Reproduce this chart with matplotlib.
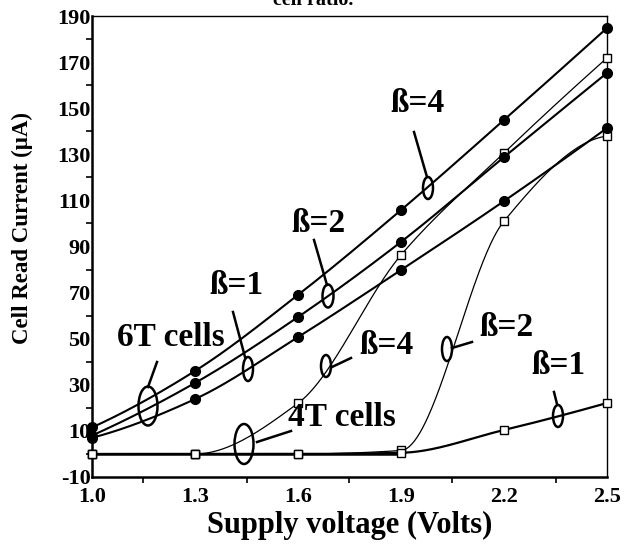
import numpy as np
import matplotlib
matplotlib.use("Agg")
import matplotlib.pyplot as plt
from matplotlib.patches import Ellipse
from matplotlib.lines import Line2D
from matplotlib.ticker import FixedLocator

# ---------------- data ----------------
voltage = [1.0, 1.3, 1.6, 1.9, 2.2, 2.5]
t6_beta4 = [11.5, 36.0, 69.0, 105.8, 144.9, 184.8]
t6_beta2 = [8.0, 30.8, 59.4, 92.0, 128.8, 165.3]
t6_beta1 = [7.0, 23.8, 50.7, 79.8, 109.7, 141.4]
t4_beta4 = [0.0, 0.0, 22.0, 86.3, 130.6, 171.8]
t4_beta2 = [0.0, 0.0, 0.0, 1.5, 101.0, 137.9]
t4_beta1 = [0.0, 0.0, 0.0, 0.5, 10.4, 22.1]

x_ticks = [1.0, 1.3, 1.6, 1.9, 2.2, 2.5]
x_tick_labels = ["1.0", "1.3", "1.6", "1.9", "2.2", "2.5"]
y_ticks = [-10, 10, 30, 50, 70, 90, 110, 130, 150, 170, 190]
y_tick_labels = ["-10", "10", "30", "50", "70", "90", "110", "130", "150", "170", "190"]

SERIF = ["Liberation Serif", "DejaVu Serif"]


def pchip(x, y, xn):
    x = np.asarray(x, float)
    y = np.asarray(y, float)
    h = np.diff(x)
    d = np.diff(y) / h
    n = len(x)
    m = np.zeros(n)
    for k in range(1, n - 1):
        if d[k - 1] * d[k] <= 0:
            m[k] = 0.0
        else:
            w1 = 2 * h[k] + h[k - 1]
            w2 = h[k] + 2 * h[k - 1]
            m[k] = (w1 + w2) / (w1 / d[k - 1] + w2 / d[k])
    m[0] = 0.0 if d[0] == 0 else ((2 * h[0] + h[1]) * d[0] - h[0] * d[1]) / (h[0] + h[1])
    if np.sign(m[0]) != np.sign(d[0]):
        m[0] = 0.0
    m[-1] = ((2 * h[-1] + h[-2]) * d[-1] - h[-1] * d[-2]) / (h[-1] + h[-2])
    if np.sign(m[-1]) != np.sign(d[-1]):
        m[-1] = 0.0
    xn = np.asarray(xn, float)
    idx = np.clip(np.searchsorted(x, xn) - 1, 0, n - 2)
    t = (xn - x[idx]) / h[idx]
    h00 = 2 * t**3 - 3 * t**2 + 1
    h10 = t**3 - 2 * t**2 + t
    h01 = -2 * t**3 + 3 * t**2
    h11 = t**3 - t**2
    return h00 * y[idx] + h10 * h[idx] * m[idx] + h01 * y[idx + 1] + h11 * h[idx] * m[idx + 1]


W, H = 633, 550
fig = plt.figure(figsize=(W / 100, H / 100), dpi=100)
ax = fig.add_axes([92 / W, 1 - 477 / H, (607 - 92) / W, (477 - 16) / H])
ax.set_xlim(1.0, 2.5)
ax.set_ylim(-10, 190)

xs = np.linspace(1.0, 2.5, 400)

# 4T cell curves (open squares)
for vals, lw in [(t4_beta4, 0.9), (t4_beta2, 0.9), (t4_beta1, 1.6)]:
    ax.plot(xs, pchip(voltage, vals, xs), color="black", lw=lw, zorder=2)
ax.plot(xs[xs <= 1.9], np.zeros((xs <= 1.9).sum()), color="black", lw=1.8, zorder=2)
for vals in [t4_beta4, t4_beta2, t4_beta1]:
    ax.plot(voltage, vals, ls="none", marker="s", ms=6, mfc="white",
            mec="black", mew=1.0, zorder=4, clip_on=False)

# 6T cell curves (filled circles)
for vals in [t6_beta4, t6_beta2, t6_beta1]:
    ax.plot(xs, pchip(voltage, vals, xs), color="black", lw=1.5, zorder=3)
    ax.plot(voltage, vals, ls="none", marker="o", ms=7, color="black",
            zorder=5, clip_on=False)

# axes styling
ax.xaxis.set_major_locator(FixedLocator(x_ticks))
ax.set_xticklabels(x_tick_labels)
ax.xaxis.set_minor_locator(FixedLocator([1.15, 1.45, 1.75, 2.05, 2.35]))
ax.yaxis.set_major_locator(FixedLocator(y_ticks))
ax.set_yticklabels(y_tick_labels)
ax.yaxis.set_minor_locator(FixedLocator([0, 20, 40, 60, 80, 100, 120, 140, 160, 180]))
ax.tick_params(which="major", length=0, width=1.2)
ax.tick_params(which="minor", direction="out", length=4, width=1.2)
ax.tick_params(axis="y", which="major", pad=1)
ax.tick_params(axis="x", which="major", pad=7)
for lab in ax.get_xticklabels() + ax.get_yticklabels():
    lab.set_family(SERIF)
    lab.set_fontweight("bold")
    lab.set_fontsize(16)
for side, lw in [("left", 1.8), ("bottom", 1.8), ("top", 1.0), ("right", 1.0)]:
    ax.spines[side].set_linewidth(lw)

ax.set_xlabel("Supply voltage (Volts)", family=SERIF, fontweight="bold",
              fontsize=22, labelpad=3)
fig.text(22 / W, 1 - 228 / H, "Cell Read Current (\u00b5A)", rotation=90,
         ha="center", va="center", family=SERIF, fontweight="bold", fontsize=16.5)
fig.text(313 / W, 1 - 5 / H, "cell ratio.", ha="center", va="baseline",
         family=SERIF, fontweight="bold", fontsize=14.5)

# ---------------- annotations (pixel layout) ----------------
def fx(px):
    return px / W


def fy(py):
    return 1 - py / H


annotations = [
    # text, text centre, ellipse centre, ellipse w/h, leader start, leader end
    ("6T cells", (171, 338), (148, 406), (19, 39), (157, 362), (148, 387)),
    ("\u00df=1", (236, 285), (248, 369), (10, 24), (233, 312), (245, 357)),
    ("\u00df=2", (318, 224), (328, 296), (11, 23), (314, 240), (327, 285)),
    ("\u00df=4", (417, 103), (428, 188), (10, 22), (414, 132), (427, 177)),
    ("\u00df=4", (386, 346), (326, 366), (10, 22), (332, 367), (351, 358)),
    ("4T cells", (342, 418), (244, 444), (19, 40), (257, 442), (291, 431)),
    ("\u00df=2", (506, 328), (447, 349), (10, 24), (452, 348), (472, 342)),
    ("\u00df=1", (558, 366), (558, 416), (10, 22), (554, 392), (557, 404)),
]
for text, tc, ec, ewh, l0, l1 in annotations:
    fig.text(fx(tc[0]), fy(tc[1]), text, ha="center", va="center",
             family=SERIF, fontweight="bold", fontsize=24)
    fig.add_artist(Ellipse((fx(ec[0]), fy(ec[1])), ewh[0] / W, ewh[1] / H,
                           transform=fig.transFigure, fill=False,
                           edgecolor="black", lw=1.8, zorder=6))
    fig.add_artist(Line2D([fx(l0[0]), fx(l1[0])], [fy(l0[1]), fy(l1[1])],
                          transform=fig.transFigure, color="black", lw=1.8,
                          zorder=6))

fig.savefig("out.png", dpi=100)
